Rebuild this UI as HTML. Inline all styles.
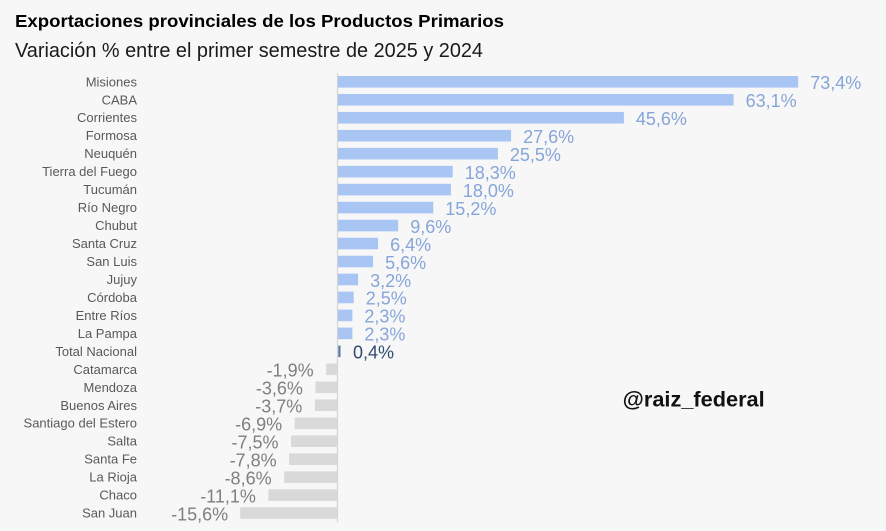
<!DOCTYPE html>
<html>
<head>
<meta charset="utf-8">
<style>
  html,body{margin:0;padding:0;background:#f7f7f7;}
  svg{display:block;}
  .cat{font-family:"Liberation Sans",sans-serif;font-size:13px;fill:#595959;text-anchor:end;}
  .vp{font-family:"Liberation Sans",sans-serif;font-size:18px;fill:#86a5d9;}
  .vn{font-family:"Liberation Sans",sans-serif;font-size:18px;fill:#7f7f7f;text-anchor:end;}
  .vt{font-family:"Liberation Sans",sans-serif;font-size:18px;fill:#2f4a6e;}
</style>
</head>
<body>
<svg width="886" height="531" viewBox="0 0 886 531" xmlns="http://www.w3.org/2000/svg">
  <rect x="0" y="0" width="886" height="531" fill="#f7f7f7"/>
  <text x="15" y="27" font-family="Liberation Sans, sans-serif" font-weight="bold" font-size="17.5" fill="#000" textLength="489" lengthAdjust="spacingAndGlyphs">Exportaciones provinciales de los Productos Primarios</text>
  <text x="15" y="57" font-family="Liberation Sans, sans-serif" font-size="20" fill="#1a1a1a" textLength="468" lengthAdjust="spacingAndGlyphs">Variación % entre el primer semestre de 2025 y 2024</text>

  <!-- axis -->
  <line x1="337.5" y1="73" x2="337.5" y2="522" stroke="#d4d4d4" stroke-width="1.2"/>

  <!-- positive bars -->
  <g fill="#a9c5f4">
    <rect x="338" y="76.0" width="460.2" height="11.6"/>
    <rect x="338" y="93.97" width="395.6" height="11.6"/>
    <rect x="338" y="111.94" width="285.9" height="11.6"/>
    <rect x="338" y="129.91" width="173.1" height="11.6"/>
    <rect x="338" y="147.88" width="159.9" height="11.6"/>
    <rect x="338" y="165.85" width="114.7" height="11.6"/>
    <rect x="338" y="183.82" width="112.9" height="11.6"/>
    <rect x="338" y="201.79" width="95.3" height="11.6"/>
    <rect x="338" y="219.76" width="60.2" height="11.6"/>
    <rect x="338" y="237.73" width="40.1" height="11.6"/>
    <rect x="338" y="255.7" width="35.1" height="11.6"/>
    <rect x="338" y="273.67" width="20.1" height="11.6"/>
    <rect x="338" y="291.64" width="15.7" height="11.6"/>
    <rect x="338" y="309.61" width="14.4" height="11.6"/>
    <rect x="338" y="327.58" width="14.4" height="11.6"/>
  </g>
  <rect x="338.3" y="345.55" width="2.2" height="11.6" fill="#5577a8"/>
  <!-- negative bars -->
  <g fill="#d9d9d9">
    <rect x="326.1" y="363.52" width="11.4" height="11.6"/>
    <rect x="315.4" y="381.49" width="22.1" height="11.6"/>
    <rect x="314.8" y="399.46" width="22.7" height="11.6"/>
    <rect x="294.7" y="417.43" width="42.8" height="11.6"/>
    <rect x="291.0" y="435.4" width="46.5" height="11.6"/>
    <rect x="289.1" y="453.37" width="48.4" height="11.6"/>
    <rect x="284.1" y="471.34" width="53.4" height="11.6"/>
    <rect x="268.4" y="489.31" width="69.1" height="11.6"/>
    <rect x="240.2" y="507.28" width="97.3" height="11.6"/>
  </g>

  <!-- category labels -->
  <g class="cat">
    <text x="137" y="86.3">Misiones</text>
    <text x="137" y="104.27">CABA</text>
    <text x="137" y="122.24">Corrientes</text>
    <text x="137" y="140.21">Formosa</text>
    <text x="137" y="158.18">Neuquén</text>
    <text x="137" y="176.15">Tierra del Fuego</text>
    <text x="137" y="194.12">Tucumán</text>
    <text x="137" y="212.09">Río Negro</text>
    <text x="137" y="230.06">Chubut</text>
    <text x="137" y="248.03">Santa Cruz</text>
    <text x="137" y="266.0">San Luis</text>
    <text x="137" y="283.97">Jujuy</text>
    <text x="137" y="301.94">Córdoba</text>
    <text x="137" y="319.91">Entre Ríos</text>
    <text x="137" y="337.88">La Pampa</text>
    <text x="137" y="355.85">Total Nacional</text>
    <text x="137" y="373.82">Catamarca</text>
    <text x="137" y="391.79">Mendoza</text>
    <text x="137" y="409.76">Buenos Aires</text>
    <text x="137" y="427.73">Santiago del Estero</text>
    <text x="137" y="445.7">Salta</text>
    <text x="137" y="463.67">Santa Fe</text>
    <text x="137" y="481.64">La Rioja</text>
    <text x="137" y="499.61">Chaco</text>
    <text x="137" y="517.58">San Juan</text>
  </g>

  <!-- value labels positive -->
  <g class="vp">
    <text x="810.2" y="89.1">73,4%</text>
    <text x="745.6" y="107.07">63,1%</text>
    <text x="635.9" y="125.04">45,6%</text>
    <text x="523.1" y="143.01">27,6%</text>
    <text x="509.9" y="160.98">25,5%</text>
    <text x="464.7" y="178.95">18,3%</text>
    <text x="462.9" y="196.92">18,0%</text>
    <text x="445.3" y="214.89">15,2%</text>
    <text x="410.2" y="232.86">9,6%</text>
    <text x="390.1" y="250.83">6,4%</text>
    <text x="385.1" y="268.8">5,6%</text>
    <text x="370.1" y="286.77">3,2%</text>
    <text x="365.7" y="304.74">2,5%</text>
    <text x="364.4" y="322.71">2,3%</text>
    <text x="364.4" y="340.68">2,3%</text>
  </g>
  <text class="vt" x="353" y="358.65">0,4%</text>
  <!-- value labels negative -->
  <g class="vn">
    <text x="313.6" y="376.62">-1,9%</text>
    <text x="302.9" y="394.59">-3,6%</text>
    <text x="302.3" y="412.56">-3,7%</text>
    <text x="282.2" y="430.53">-6,9%</text>
    <text x="278.5" y="448.5">-7,5%</text>
    <text x="276.6" y="466.47">-7,8%</text>
    <text x="271.6" y="484.44">-8,6%</text>
    <text x="255.9" y="502.41">-11,1%</text>
    <text x="228.2" y="520.38">-15,6%</text>
  </g>

  <text x="622.7" y="406.5" font-family="Liberation Sans, sans-serif" font-weight="bold" font-size="21" fill="#111" textLength="142" lengthAdjust="spacingAndGlyphs">@raiz_federal</text>
</svg>
</body>
</html>
